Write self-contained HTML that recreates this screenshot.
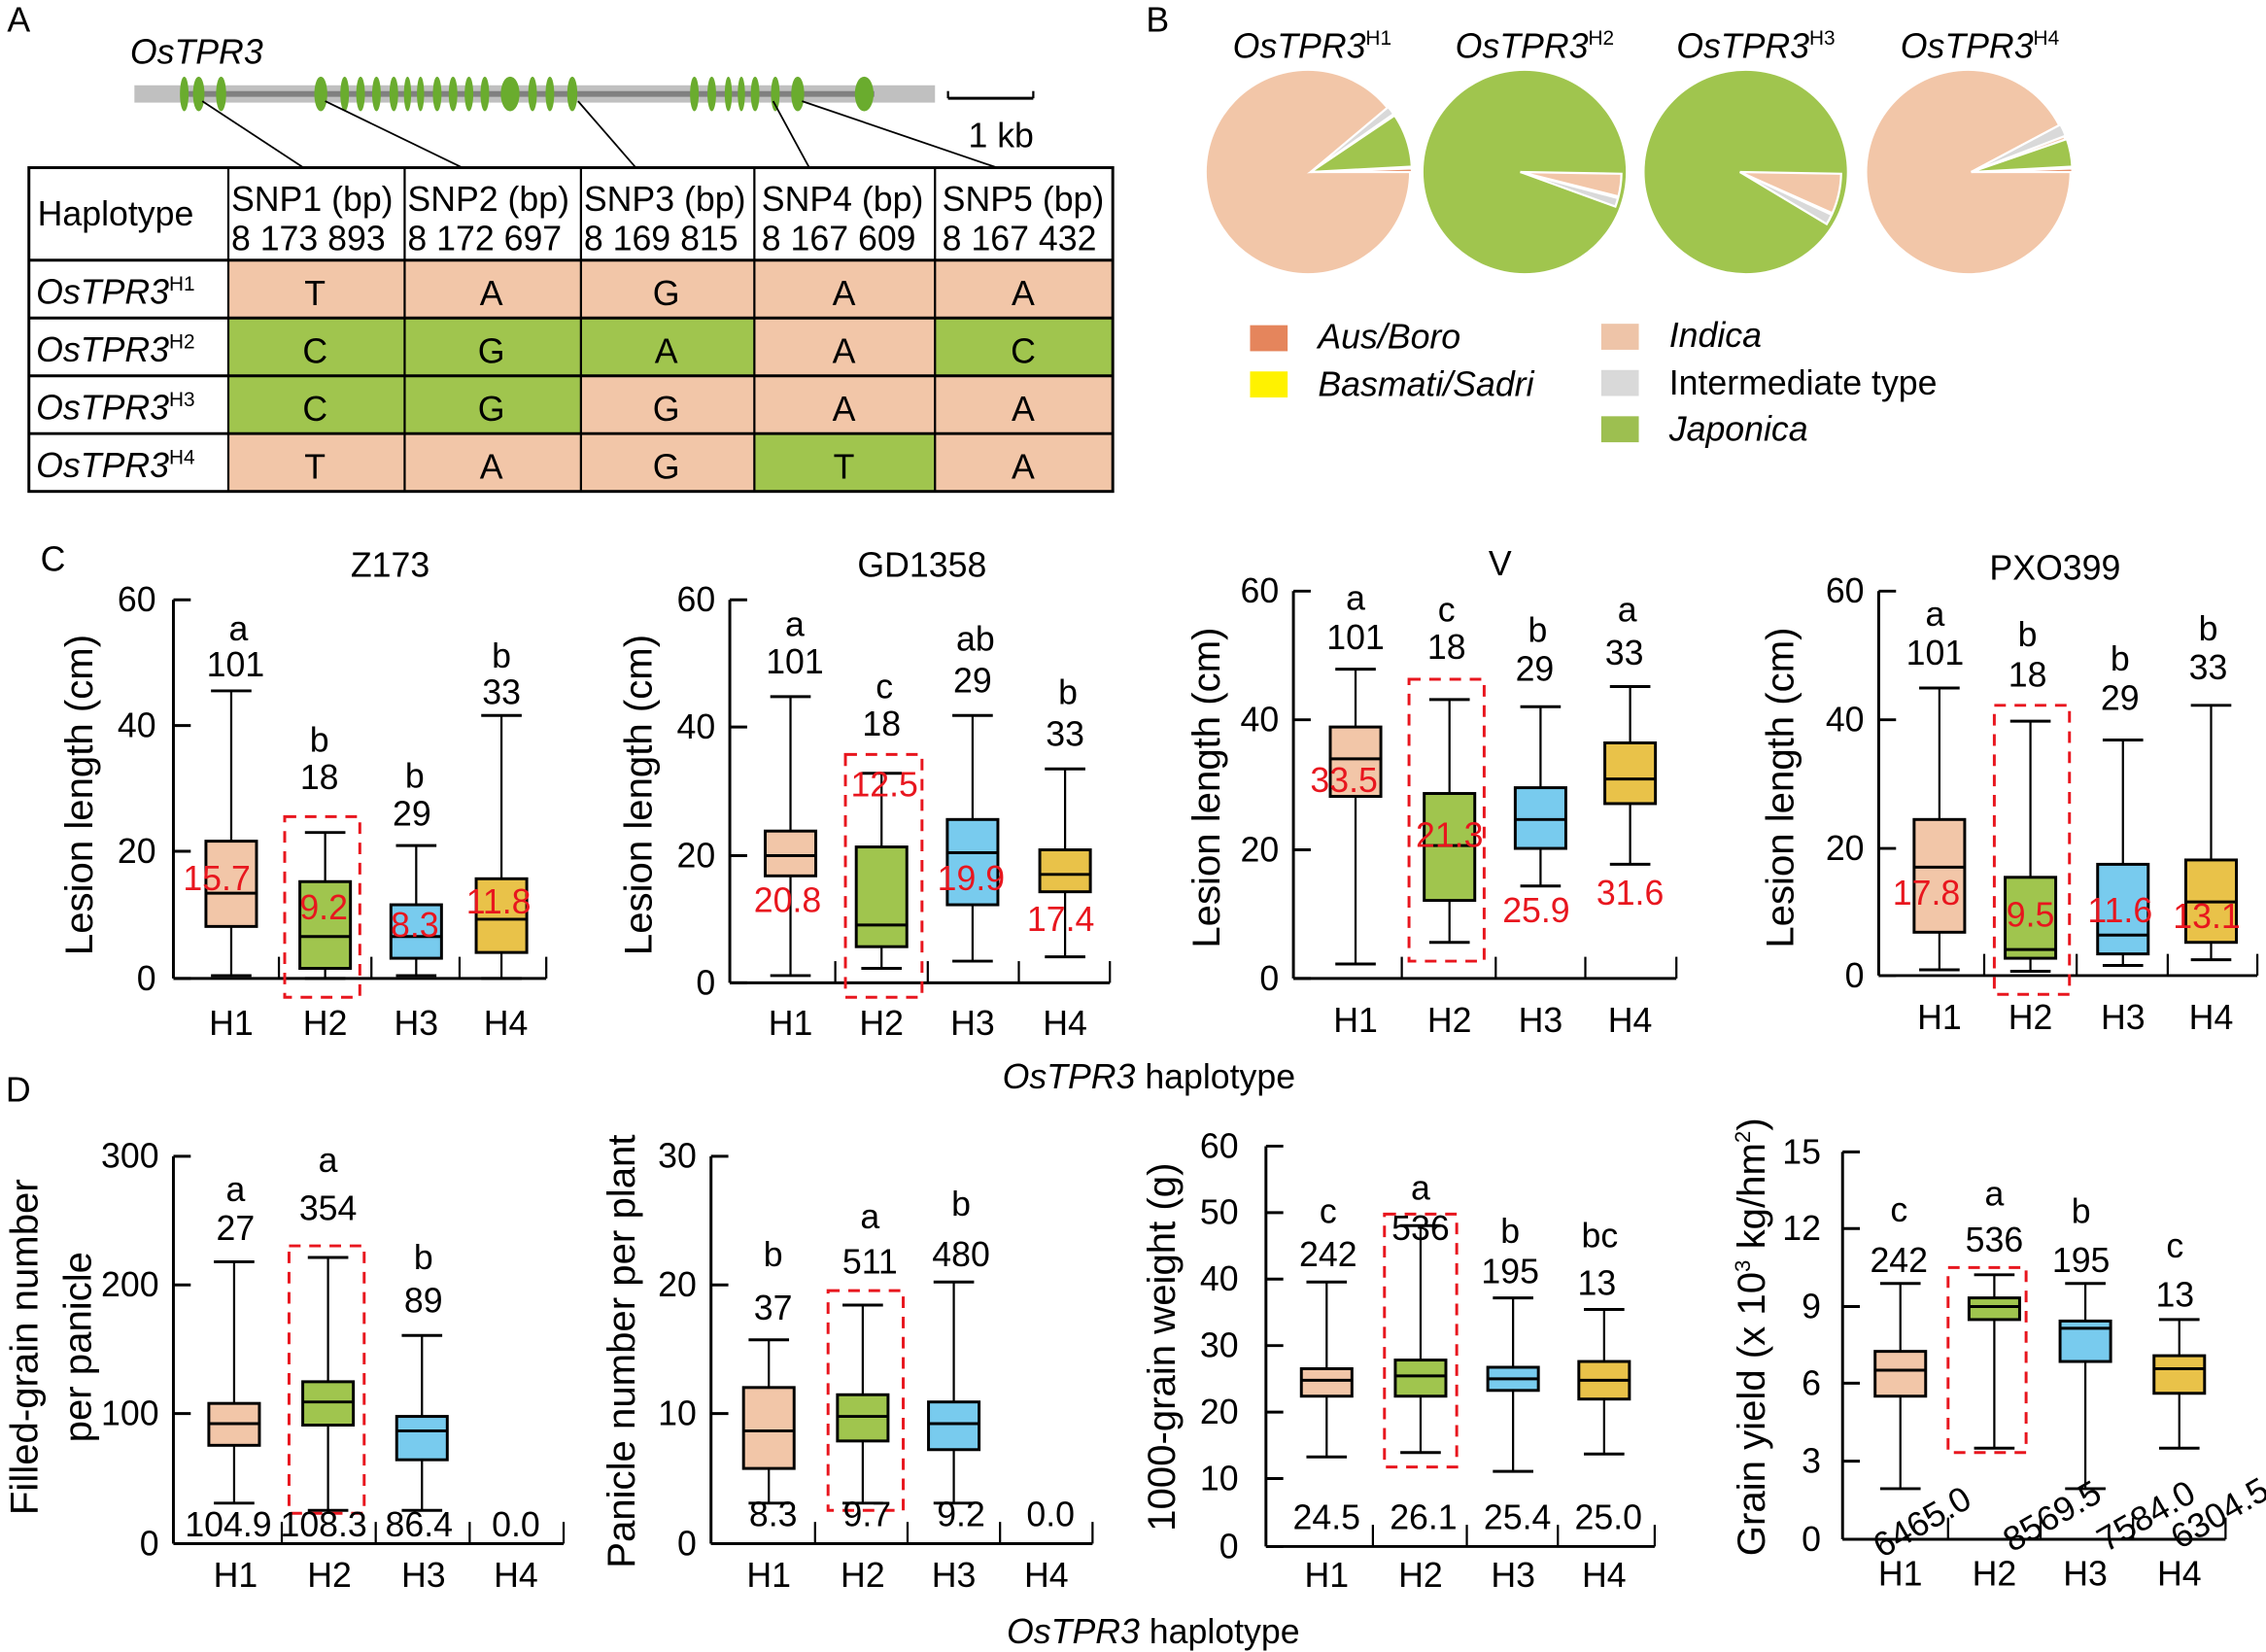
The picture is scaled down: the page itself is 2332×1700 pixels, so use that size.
<!DOCTYPE html>
<html><head><meta charset="utf-8"><style>
html,body{margin:0;padding:0;background:#fff}
svg{display:block}
text{font-family:"Liberation Sans",Arial,sans-serif;fill:#000}
.t{font-size:24px}
.c{text-anchor:middle}
.r{fill:#e8161e}
.i{font-style:italic}
.yl{font-size:27px}
</style></head><body>
<svg id="s" width="2332" height="1700" viewBox="0 0 1568 1143" preserveAspectRatio="none" xmlns="http://www.w3.org/2000/svg">
<g id="shapes"></g>
<text x="5" y="22" class="t">A</text>
<text x="793" y="22" class="t">B</text>
<text x="28" y="395" class="t">C</text>
<text x="4" y="762" class="t">D</text>
<text x="90" y="44" class="t i">OsTPR3</text>
<text x="670" y="102" class="t">1 kb</text>
<text x="26" y="156" class="t">Haplotype</text>
<g class="t">
<text x="160" y="146">SNP1 (bp)</text><text x="160" y="173">8 173 893</text>
<text x="282" y="146">SNP2 (bp)</text><text x="282" y="173">8 172 697</text>
<text x="404" y="146">SNP3 (bp)</text><text x="404" y="173">8 169 815</text>
<text x="527" y="146">SNP4 (bp)</text><text x="527" y="173">8 167 609</text>
<text x="652" y="146">SNP5 (bp)</text><text x="652" y="173">8 167 432</text>
</g>
<g class="t i">
<text x="25" y="210">OsTPR3<tspan dy="-9" font-size="14" font-style="normal">H1</tspan></text>
<text x="25" y="250">OsTPR3<tspan dy="-9" font-size="14" font-style="normal">H2</tspan></text>
<text x="25" y="290">OsTPR3<tspan dy="-9" font-size="14" font-style="normal">H3</tspan></text>
<text x="25" y="330">OsTPR3<tspan dy="-9" font-size="14" font-style="normal">H4</tspan></text>
</g>
<g class="t c">
<text x="218" y="211">T</text><text x="340" y="211">A</text><text x="461" y="211">G</text><text x="584" y="211">A</text><text x="708" y="211">A</text>
<text x="218" y="251">C</text><text x="340" y="251">G</text><text x="461" y="251">A</text><text x="584" y="251">A</text><text x="708" y="251">C</text>
<text x="218" y="291">C</text><text x="340" y="291">G</text><text x="461" y="291">G</text><text x="584" y="291">A</text><text x="708" y="291">A</text>
<text x="218" y="331">T</text><text x="340" y="331">A</text><text x="461" y="331">G</text><text x="584" y="331">T</text><text x="708" y="331">A</text>
</g>
<g class="t i">
<text x="853" y="40">OsTPR3<tspan dy="-9" font-size="14" font-style="normal">H1</tspan></text>
<text x="1007" y="40">OsTPR3<tspan dy="-9" font-size="14" font-style="normal">H2</tspan></text>
<text x="1160" y="40">OsTPR3<tspan dy="-9" font-size="14" font-style="normal">H3</tspan></text>
<text x="1315" y="40">OsTPR3<tspan dy="-9" font-size="14" font-style="normal">H4</tspan></text>
<text x="912" y="241">Aus/Boro</text>
<text x="912" y="274">Basmati/Sadri</text>
<text x="1155" y="240">Indica</text>
<text x="1155" y="305">Japonica</text>
</g>
<text x="1155" y="273" class="t">Intermediate type</text>
<g class="t c">
<text x="270" y="399">Z173</text><text x="638" y="399">GD1358</text><text x="1038" y="398">V</text><text x="1422" y="401">PXO399</text>
<text x="795" y="753"><tspan class="i">OsTPR3</tspan> haplotype</text>
<text x="798" y="1137"><tspan class="i">OsTPR3</tspan> haplotype</text>
</g>
<g class="t" text-anchor="end">
<text x="108" y="423">60</text><text x="108" y="510">40</text><text x="108" y="597">20</text><text x="108" y="685">0</text>
<text x="495" y="423">60</text><text x="495" y="511">40</text><text x="495" y="600">20</text><text x="495" y="688">0</text>
<text x="885" y="417">60</text><text x="885" y="506">40</text><text x="885" y="596">20</text><text x="885" y="685">0</text>
<text x="1290" y="417">60</text><text x="1290" y="506">40</text><text x="1290" y="595">20</text><text x="1290" y="683">0</text>
<text x="110" y="808">300</text><text x="110" y="897">200</text><text x="110" y="986">100</text><text x="110" y="1076">0</text>
<text x="482" y="808">30</text><text x="482" y="897">20</text><text x="482" y="986">10</text><text x="482" y="1076">0</text>
<text x="857" y="801">60</text><text x="857" y="847">50</text><text x="857" y="893">40</text><text x="857" y="939">30</text><text x="857" y="985">20</text><text x="857" y="1031">10</text><text x="857" y="1078">0</text>
<text x="1260" y="805">15</text><text x="1260" y="858">12</text><text x="1260" y="912">9</text><text x="1260" y="965">6</text><text x="1260" y="1019">3</text><text x="1260" y="1073">0</text>
</g>
<g class="yl c">
<text transform="translate(64,550) rotate(-90)">Lesion length (cm)</text>
<text transform="translate(451,550) rotate(-90)">Lesion length (cm)</text>
<text transform="translate(844,545) rotate(-90)">Lesion length (cm)</text>
<text transform="translate(1241,545) rotate(-90)">Lesion length (cm)</text>
<text transform="translate(26,932) rotate(-90)">Filled-grain number</text>
<text transform="translate(63,932) rotate(-90)">per panicle</text>
<text transform="translate(439,935) rotate(-90)">Panicle number per plant</text>
<text transform="translate(813,932) rotate(-90)">1000-grain weight (g)</text>
<text transform="translate(1221,925) rotate(-90)">Grain yield  (x 10<tspan dy="-10" font-size="15">3</tspan><tspan dy="10"> kg/hm</tspan><tspan dy="-10" font-size="15">2</tspan><tspan dy="10">)</tspan></text>
</g>
<g class="t c">
<text x="160" y="716">H1</text><text x="225" y="716">H2</text><text x="288" y="716">H3</text><text x="350" y="716">H4</text>
<text x="547" y="716">H1</text><text x="610" y="716">H2</text><text x="673" y="716">H3</text><text x="737" y="716">H4</text>
<text x="938" y="714">H1</text><text x="1003" y="714">H2</text><text x="1066" y="714">H3</text><text x="1128" y="714">H4</text>
<text x="1342" y="712">H1</text><text x="1405" y="712">H2</text><text x="1469" y="712">H3</text><text x="1530" y="712">H4</text>
<text x="163" y="1098">H1</text><text x="228" y="1098">H2</text><text x="293" y="1098">H3</text><text x="357" y="1098">H4</text>
<text x="532" y="1098">H1</text><text x="597" y="1098">H2</text><text x="660" y="1098">H3</text><text x="724" y="1098">H4</text>
<text x="918" y="1098">H1</text><text x="983" y="1098">H2</text><text x="1047" y="1098">H3</text><text x="1110" y="1098">H4</text>
<text x="1315" y="1097">H1</text><text x="1380" y="1097">H2</text><text x="1443" y="1097">H3</text><text x="1508" y="1097">H4</text>
<text x="165" y="443">a</text><text x="163" y="468">101</text>
<text x="221" y="520">b</text><text x="221" y="546">18</text>
<text x="287" y="545">b</text><text x="285" y="571">29</text>
<text x="347" y="462">b</text><text x="347" y="487">33</text>
<text x="550" y="440">a</text><text x="550" y="466">101</text>
<text x="612" y="483">c</text><text x="610" y="509">18</text>
<text x="675" y="450">ab</text><text x="673" y="479">29</text>
<text x="739" y="487">b</text><text x="737" y="516">33</text>
<text x="938" y="422">a</text><text x="938" y="449">101</text>
<text x="1001" y="430">c</text><text x="1001" y="456">18</text>
<text x="1064" y="444">b</text><text x="1062" y="471">29</text>
<text x="1126" y="430">a</text><text x="1124" y="460">33</text>
<text x="1339" y="433">a</text><text x="1339" y="460">101</text>
<text x="1403" y="447">b</text><text x="1403" y="475">18</text>
<text x="1467" y="464">b</text><text x="1467" y="491">29</text>
<text x="1528" y="443">b</text><text x="1528" y="470">33</text>
<g class="r">
<text x="150" y="616" class="r">15.7</text><text x="224" y="636" class="r">9.2</text><text x="287" y="648" class="r">8.3</text><text x="345" y="632" class="r">11.8</text>
<text x="545" y="631" class="r">20.8</text><text x="612" y="551" class="r">12.5</text><text x="672" y="616" class="r">19.9</text><text x="734" y="644" class="r">17.4</text>
<text x="930" y="548" class="r">33.5</text><text x="1003" y="586" class="r">21.3</text><text x="1063" y="638" class="r">25.9</text><text x="1128" y="626" class="r">31.6</text>
<text x="1333" y="626" class="r">17.8</text><text x="1405" y="641" class="r">9.5</text><text x="1467" y="638" class="r">11.6</text><text x="1527" y="642" class="r">13.1</text>
</g>
<text x="163" y="831">a</text><text x="163" y="858">27</text>
<text x="227" y="811">a</text><text x="227" y="844">354</text>
<text x="293" y="878">b</text><text x="293" y="908">89</text>
<text x="158" y="1063">104.9</text><text x="224" y="1063">108.3</text><text x="290" y="1063">86.4</text><text x="357" y="1063">0.0</text>
<text x="535" y="876">b</text><text x="535" y="913">37</text>
<text x="602" y="850">a</text><text x="602" y="881">511</text>
<text x="665" y="841">b</text><text x="665" y="876">480</text>
<text x="535" y="1056">8.3</text><text x="600" y="1056">9.7</text><text x="665" y="1056">9.2</text><text x="727" y="1056">0.0</text>
<text x="919" y="846">c</text><text x="919" y="876">242</text>
<text x="983" y="830">a</text><text x="983" y="858">536</text>
<text x="1045" y="860">b</text><text x="1045" y="888">195</text>
<text x="1107" y="863">bc</text><text x="1105" y="896">13</text>
<text x="918" y="1058">24.5</text><text x="985" y="1058">26.1</text><text x="1050" y="1058">25.4</text><text x="1113" y="1058">25.0</text>
<text x="1314" y="845">c</text><text x="1314" y="880">242</text>
<text x="1380" y="834">a</text><text x="1380" y="866">536</text>
<text x="1440" y="846">b</text><text x="1440" y="880">195</text>
<text x="1505" y="870">c</text><text x="1505" y="904">13</text>
</g>
<g class="t">
<text transform="translate(1334,1060) rotate(-30)" text-anchor="middle">6465.0</text>
<text transform="translate(1424,1056) rotate(-30)" text-anchor="middle">8569.5</text>
<text transform="translate(1489,1056) rotate(-30)" text-anchor="middle">7584.0</text>
<text transform="translate(1540,1054) rotate(-30)" text-anchor="middle">6304.5</text>
</g>
</svg>
<script>
var g=document.getElementById('shapes'),h='';
function R(x,y,w,hh,f,s,sw,extra){h+='<rect x="'+x+'" y="'+y+'" width="'+w+'" height="'+hh+'" fill="'+f+'" stroke="'+(s||'none')+'" stroke-width="'+(sw||0)+'" '+(extra||'')+'/>';}
function L(x1,y1,x2,y2,s,w,extra){h+='<line x1="'+x1+'" y1="'+y1+'" x2="'+x2+'" y2="'+y2+'" stroke="'+(s||'#000')+'" stroke-width="'+(w||1.5)+'" '+(extra||'')+'/>';}
var P='#f2c6a8',G='#a0c54e',B='#78cbee',Y='#e9c249';
R(93,59,554,12,'#c0c0c0');L(125,65,605,65,'#808080',4);
[[125,5],[134,7],[150,6],[218,8],[236,5],[247,5],[258,5],[270,5],[280,4],[289,4],[300,5],[311,5],[322,5],[333,5],[347,12],[366,5],[378,5],[393,6],[478,5],[490,5],[502,4],[511,4],[520,5],[534,5],[548,8],[592,12]].forEach(function(e){h+='<ellipse cx="'+(e[0]+e[1]/2)+'" cy="65" rx="'+(e[1]/2+0.5)+'" ry="12" fill="#6aac2e"/>';});
[[140,70,210,116],[225,70,320,116],[400,70,440,116],[535,70,560,116],[555,70,690,116]].forEach(function(l){L(l[0],l[1],l[2],l[3],'#000',1.2);});
L(656,68,715,68,'#000',2);L(656,63,656,68);L(715,63,715,68);
var cx=[20,158,280,402,522,647,770],ry=[116,180,220,260,300,340];
var cols=[[P,P,P,P,P],[G,G,G,P,G],[G,G,P,P,P],[P,P,P,G,P]];
for(var r=0;r<4;r++)for(var c=0;c<5;c++)R(cx[c+1],ry[r+1],cx[c+2]-cx[c+1],40,cols[r][c]);
R(20,116,750,224,'none','#000',2);
for(var i=1;i<5;i++)L(20,ry[i],770,ry[i],'#000',2);
for(var i=1;i<6;i++)L(cx[i],116,cx[i],340,'#000',1.5);
function pie(cx,cy,r,base,sl){h+='<circle cx="'+cx+'" cy="'+cy+'" r="'+r+'" fill="'+base+'"/>';
sl.forEach(function(s){var a1=s[0]*Math.PI/180,a2=s[1]*Math.PI/180,ox=cx+s[3],oy=cy;
h+='<path d="M'+ox+','+oy+' L'+(ox+r*Math.cos(a1))+','+(oy+r*Math.sin(a1))+' A'+r+','+r+' 0 0,1 '+(ox+r*Math.cos(a2))+','+(oy+r*Math.sin(a2))+' Z" fill="'+s[2]+'" stroke="#fff" stroke-width="1.5"/>';});}
pie(905,119,70,P,[[-40,-35,'#d9d9d9',2],[-34,-3,G,2],[-2,0,'#e5845a',2]]);
pie(1055,119,70,G,[[1,14,P,-3],[15,20,'#d9d9d9',-3]]);
pie(1208,119,70,G,[[1,24,P,-4],[25,31,'#d9d9d9',-4]]);
pie(1362,119,70,P,[[-28,-21,'#d9d9d9',2],[-19,-3,G,2],[-2,0,'#e5845a',2]]);
R(865,225,26,18,'#e5855c');R(865,257,26,18,'#fff200');R(1108,224,26,18,'#eec4a8');R(1108,256,26,18,'#d9d9d9');R(1108,288,26,18,'#9dbf50');
function axes(ax,ys,x0y,xend,seps){L(ax,ys[0],ax,x0y,'#000',2);ys.forEach(function(y){L(ax,y,ax+12,y,'#000',2);});L(ax,x0y,xend,x0y,'#000',2);seps.forEach(function(x){L(x,x0y,x,x0y-15,'#000',1.5);});}
axes(120,[415,502,589,677],677,378,[193,257,318,378]);
axes(505,[415,503,592,680],680,768,[578,642,705,768]);
axes(895,[409,498,588,677],677,1160,[970,1035,1097,1160]);
axes(1300,[409,498,587,675],675,1562,[1373,1437,1500,1562]);
axes(120,[800,889,978,1068],1068,390,[195,260,325,390]);
axes(492,[800,889,978,1068],1068,756,[564,628,692,756]);
axes(876,[793,839,885,931,977,1023,1070],1070,1145,[950,1015,1078,1145]);
axes(1275,[797,850,904,957,1011,1065],1065,1540,[1348,1412,1476,1540]);
function box(c,wt,bt,md,bb,wb,col){L(c,wt,c,wb,'#000',1.5);L(c-14,wt,c+14,wt,'#000',2);L(c-14,wb,c+14,wb,'#000',2);R(c-17.5,bt,35,bb-bt,col,'#000',2);L(c-17.5,md,c+17.5,md,'#000',2);}
function dash(x1,y1,x2,y2){R(x1,y1,x2-x1,y2-y1,'none','#e8161e',2,'stroke-dasharray="8,6"');}
box(160,478,582,618,641,675,P);box(225,576,610,648,670,677,G);box(288,585,626,648,663,675,B);box(347,495,608,636,659,677,Y);dash(197,565,249,690);
box(547,482,575,592,606,675,P);box(610,535,586,640,655,670,G);box(673,495,567,590,626,665,B);box(737,532,588,605,617,662,Y);dash(585,522,638,690);
box(938,463,503,525,551,667,P);box(1003,484,549,585,623,652,G);box(1066,489,545,567,587,613,B);box(1128,475,514,539,556,598,Y);dash(975,470,1027,665);
box(1342,476,567,600,645,671,P);box(1405,499,607,657,663,672,G);box(1469,512,598,647,660,668,B);box(1530,488,595,624,652,664,Y);dash(1380,488,1432,688);
box(162,873,971,985,1000,1040,P);box(227,870,956,970,986,1045,G);box(292,924,980,990,1010,1045,B);dash(200,862,252,1047);
box(532,927,960,990,1016,1040,P);box(597,903,965,980,997,1040,G);box(660,887,970,985,1003,1040,B);dash(573,893,625,1045);
box(918,887,947,955,966,1008,P);box(983,848,941,952,966,1005,G);box(1047,898,946,954,962,1018,B);box(1110,906,942,955,968,1006,Y);dash(958,840,1008,1015);
box(1315,888,935,948,966,1030,P);box(1380,882,898,904,913,1002,G);box(1443,888,914,919,942,1030,B);box(1508,913,938,947,964,1002,Y);dash(1348,877,1402,1005);
g.innerHTML=h;
</script>
</body></html>
